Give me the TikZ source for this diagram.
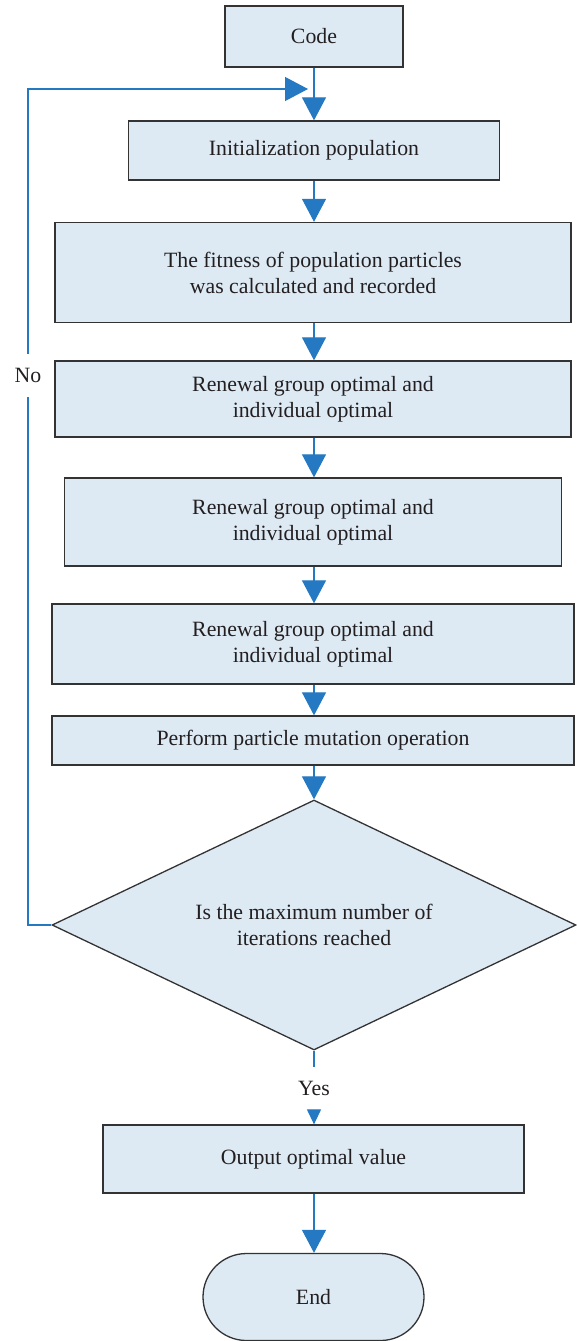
\documentclass[tikz,border=0pt]{standalone}
\usepackage{fontspec}
\setmainfont{Liberation Serif}
\usetikzlibrary{arrows.meta,shapes.geometric,shapes.misc}
\definecolor{boxfill}{HTML}{DDEAF4}
\definecolor{boxline}{HTML}{333333}
\definecolor{flow}{HTML}{2479C2}
\definecolor{ink}{HTML}{231F20}

\begin{document}
\begin{tikzpicture}[x=1pt,y=-1pt,
  every node/.style={font=\fontsize{21.8}{26}\selectfont, text=ink},
  box/.style={draw=boxline, line width=1.3pt, fill=boxfill, align=center, inner sep=0pt},
  flowline/.style={draw=flow, line width=1.2pt},
  flowarrow/.style={flowline, -{Triangle[length=23pt,width=24pt]}},
  smallarrow/.style={flowline, -{Triangle[length=15pt,width=14pt]}},
  gaplabel/.style={inner sep=0pt, minimum height=43pt}]
\useasboundingbox (0,0) rectangle (577,1341);

% process steps
\node[box, minimum width=178pt, minimum height=61pt] (code) at (314,36.5) {Code};
\node[box, minimum width=371pt, minimum height=59pt] (init) at (314,150.5) {Initialization population};
\node[box, minimum width=516pt, minimum height=100pt] (fit) at (313,272.5)
  {The fitness of population particles\\was calculated and recorded};
\node[box, minimum width=516pt, minimum height=76pt] (ren1) at (313,399)
  {Renewal group optimal and\\individual optimal};
\node[box, minimum width=497pt, minimum height=88pt] (ren2) at (313,522)
  {Renewal group optimal and\\individual optimal};
\node[box, minimum width=522pt, minimum height=80pt] (ren3) at (313,644)
  {Renewal group optimal and\\individual optimal};
\node[box, minimum width=522pt, minimum height=49pt] (perf) at (313,740.5)
  {Perform particle mutation operation};
\node[box, shape=diamond, aspect=2.096, minimum width=524pt, minimum height=250pt] (dia) at (314,925)
  {Is the maximum number of\\iterations reached};
\node[box, minimum width=421pt, minimum height=68pt] (out) at (313.5,1159) {Output optimal value};
\node[box, rounded rectangle, minimum width=221pt, minimum height=87pt] (end) at (313.5,1297) {End};

% branch labels
\node[gaplabel] (no) at (28,375.5) {No};
\node[gaplabel] (yes) at (314,1088.5) {Yes};
\coordinate (loopin) at (308,89);

% main flow
\draw[flowarrow] (code.south) -- (code.south |- init.north);
\draw[flowarrow] (init.south) -- (init.south |- fit.north);
\draw[flowarrow] (init.south |- fit.south) -- (init.south |- ren1.north);
\draw[flowarrow] (init.south |- ren1.south) -- (init.south |- ren2.north);
\draw[flowarrow] (init.south |- ren2.south) -- (init.south |- ren3.north);
\draw[flowarrow] (init.south |- ren3.south) -- (init.south |- perf.north);
\draw[flowarrow] (init.south |- perf.south) -- (dia.north);
\draw[flowline] (dia.south) -- (yes.north);
\draw[smallarrow] (yes.south) -- (yes.south |- out.north);
\draw[flowarrow] (init.south |- out.south) -- (init.south |- end.north);

% loop back on "No"
\draw[flowline] (dia.west) -| (no.south);
\draw[flowarrow] (no.north) |- (loopin);
\end{tikzpicture}
\end{document}
